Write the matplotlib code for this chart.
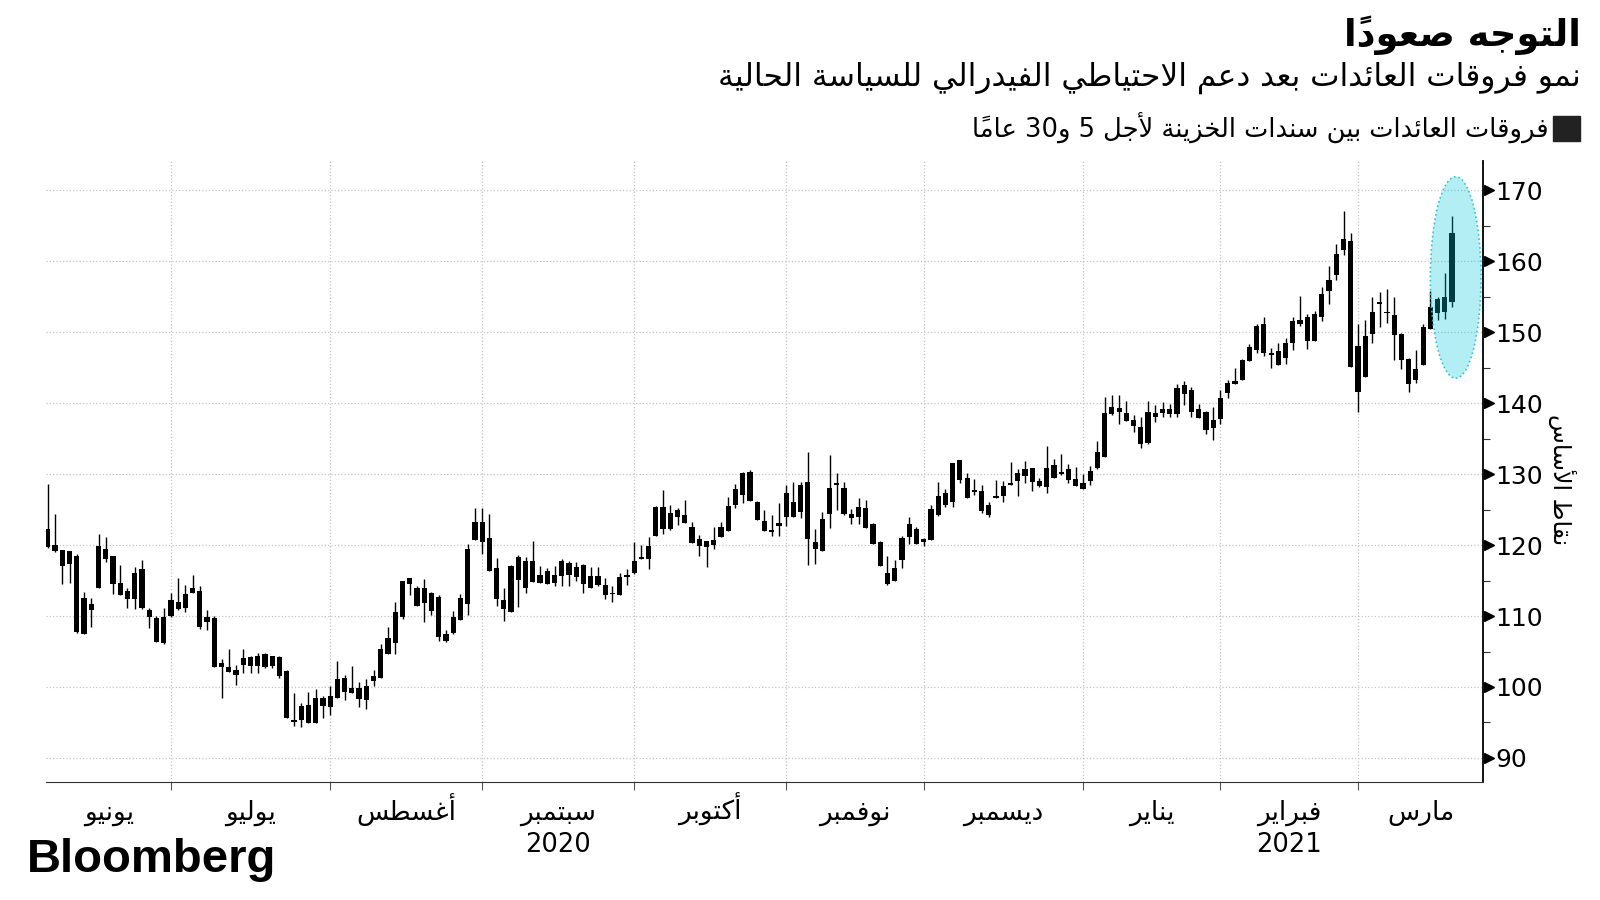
import numpy as np
import matplotlib
matplotlib.use("Agg")
import matplotlib.pyplot as plt
from matplotlib.patches import Ellipse, Rectangle
from matplotlib.ticker import FixedLocator

plt.rcParams['font.family'] = ['DejaVu Sans']

# ---- Arabic shaping (matplotlib does no contextual shaping / RTL) ----
_letters = "ءآأؤإئابةتثجحخدذرزسشصضطظعغفقكلمنهوىي"
_nforms = [1, 2, 2, 2, 2, 4, 2, 4, 2, 4, 4, 4, 4, 4, 2, 2, 2, 2, 4, 4, 4, 4,
           4, 4, 4, 4, 4, 4, 4, 4, 4, 4, 4, 2, 2, 4]
FORMS = {}
_code = 0xFE80
for ch, n in zip(_letters, _nforms):
    if n == 1:
        FORMS[ch] = (chr(_code), chr(_code))
    else:
        FORMS[ch] = tuple(chr(_code + k) for k in range(n))
    _code += n
LAM_ALEF = {'آ': 0xFEF5, 'أ': 0xFEF7, 'إ': 0xFEF9, 'ا': 0xFEFB}
MARKS = set(chr(c) for c in range(0x64B, 0x653))


def ar(text):
    clusters = []
    prev = None
    i = 0
    while i < len(text):
        c = text[i]
        if c in MARKS:
            if clusters:
                clusters[-1][0] += c
            i += 1
            continue
        if c not in FORMS:
            clusters.append([c, not ('\u0600' <= c <= '\u06FF') and c != ' '])
            prev = None
            i += 1
            continue
        j = i + 1
        while j < len(text) and text[j] in MARKS:
            j += 1
        nxt = text[j] if j < len(text) else None
        p = prev is not None and len(FORMS[prev]) == 4
        if c == 'ل' and nxt in LAM_ALEF:
            clusters.append([chr(LAM_ALEF[nxt] + (1 if p else 0)), False])
            prev = nxt
            i = j + 1
            continue
        f = FORMS[c]
        nj = nxt in FORMS and nxt != 'ء' and len(f) == 4
        if p and nj:
            g = f[3]
        elif p:
            g = f[1]
        elif nj:
            g = f[2]
        else:
            g = f[0]
        clusters.append([g, False])
        prev = c
        i += 1
    # reverse for display, keeping left-to-right runs (digits) in order
    runs = []
    for s, ltr in clusters:
        if ltr and runs and runs[-1][1]:
            runs[-1][0] += s
        else:
            runs.append([s, ltr])
    return ''.join(r[0] for r in reversed(runs))


# ---- data: 5s/30s Treasury spread, daily candles (bp) ----
high = [128.6, 124.4, 119.3, 119.2, 118.7, 113.4, 112.6, 121.5, 121.2, 118.4,
        117.2, 114.0, 116.9, 117.9, 111.2, 110.0, 111.1, 113.3, 115.3, 114.4,
        115.8, 114.2, 110.8, 110.0, 104.0, 105.4, 103.1, 105.3, 104.4, 104.8,
        104.8, 104.4, 104.4, 102.4, 99.1, 97.7, 99.3, 99.7, 98.8, 100.1,
        103.7, 101.7, 103.0, 100.7, 101.1, 102.4, 106.1, 108.5, 112.0, 115.0,
        115.4, 114.2, 115.2, 113.4, 113.0, 108.0, 110.7, 113.1, 120.2, 125.2,
        125.2, 124.4, 118.2, 114.0, 117.2, 118.6, 118.3, 120.6, 117.1, 116.7,
        117.1, 118.0, 117.7, 117.6, 117.4, 116.9, 116.9, 115.3, 114.3, 116.0,
        116.6, 120.5, 120.0, 121.2, 125.5, 127.7, 125.7, 125.2, 126.4, 123.2,
        121.4, 120.6, 122.6, 123.3, 126.8, 128.6, 130.3, 130.6, 126.2, 125.0,
        124.3, 125.9, 128.5, 128.9, 128.9, 133.1, 122.3, 124.7, 132.7, 130.2,
        128.9, 125.1, 126.7, 126.3, 123.1, 120.6, 118.4, 117.9, 121.3, 123.9,
        122.6, 121.0, 125.7, 128.9, 127.9, 131.6, 132.0, 130.2, 129.3, 128.5,
        126.0, 129.2, 129.0, 131.7, 130.7, 131.8, 130.9, 129.5, 133.9, 132.1,
        132.9, 131.4, 131.0, 130.0, 131.2, 134.7, 140.8, 141.2, 141.2, 140.3,
        138.3, 138.0, 140.3, 139.8, 140.1, 139.9, 142.7, 143.1, 142.3, 139.9,
        138.9, 139.5, 141.9, 143.2, 144.9, 146.2, 148.3, 151.1, 152.1, 147.8,
        148.4, 149.2, 152.1, 155.1, 152.5, 153.0, 156.4, 159.3, 162.4, 167.0,
        164.0, 151.1, 151.7, 154.9, 155.7, 156.1, 154.9, 149.9, 146.3, 147.5,
        151.1, 155.8, 154.9, 158.3, 166.3]
body_hi = [122.3, 120.0, 119.3, 119.1, 118.4, 112.5, 111.7, 119.9, 119.5, 118.4,
           114.7, 113.5, 116.0, 116.6, 110.8, 109.7, 109.8, 112.2, 112.0, 113.1,
           114.0, 113.5, 109.8, 109.7, 103.4, 102.8, 102.4, 104.1, 104.2, 104.4,
           104.7, 104.3, 104.2, 102.2, 95.4, 97.3, 97.4, 98.4, 98.5, 98.7,
           101.1, 101.2, 99.8, 99.9, 100.2, 101.6, 105.3, 106.9, 110.5, 114.9,
           115.3, 114.0, 114.0, 113.3, 112.7, 107.5, 109.8, 112.5, 119.5, 123.2,
           123.3, 121.0, 116.8, 112.2, 117.1, 118.3, 117.7, 117.8, 115.8, 116.3,
           115.8, 117.7, 117.5, 116.9, 117.2, 115.6, 115.7, 114.4, 113.3, 115.5,
           115.8, 117.8, 118.3, 119.9, 125.4, 125.4, 124.5, 124.9, 124.2, 122.6,
           120.9, 120.6, 120.7, 122.5, 125.5, 127.9, 130.1, 130.3, 126.0, 123.4,
           122.1, 123.1, 127.4, 126.0, 128.5, 128.9, 120.4, 123.7, 128.0, 128.7,
           128.0, 124.4, 125.4, 125.2, 122.9, 120.5, 116.0, 116.8, 121.0, 122.9,
           122.2, 120.9, 125.1, 126.9, 127.3, 131.5, 132.0, 129.4, 127.8, 127.6,
           125.7, 126.9, 128.3, 128.7, 130.1, 130.7, 130.8, 129.0, 130.8, 131.3,
           130.3, 130.7, 129.3, 128.7, 130.5, 133.1, 138.6, 139.4, 139.3, 138.6,
           137.6, 136.6, 138.7, 138.6, 139.2, 139.2, 142.1, 142.5, 141.9, 139.2,
           138.7, 137.6, 140.7, 142.9, 143.1, 146.1, 147.9, 150.8, 151.2, 147.1,
           147.4, 148.4, 151.5, 151.7, 152.1, 152.6, 155.4, 157.3, 161.0, 163.1,
           162.9, 148.0, 149.4, 152.9, 154.3, 152.9, 152.4, 149.7, 146.2, 144.8,
           150.7, 153.6, 154.7, 154.9, 163.9]
body_lo = [119.7, 119.1, 117.1, 117.3, 107.7, 107.5, 110.9, 114.0, 118.1, 114.5,
           112.9, 112.4, 112.4, 111.1, 109.9, 106.4, 106.2, 110.0, 111.0, 111.2,
           113.3, 108.4, 109.1, 102.8, 102.8, 102.1, 101.7, 103.1, 102.9, 103.0,
           102.8, 103.0, 101.6, 95.7, 95.1, 95.4, 94.9, 94.9, 97.3, 97.2,
           98.5, 99.3, 99.2, 98.3, 98.1, 100.8, 101.2, 104.6, 106.2, 109.8,
           114.5, 111.4, 111.8, 110.7, 107.0, 106.5, 107.6, 109.4, 111.7, 120.7,
           120.5, 116.4, 112.4, 111.0, 110.5, 115.1, 113.9, 114.8, 114.7, 114.5,
           114.6, 115.6, 115.8, 115.5, 114.5, 114.0, 114.4, 112.9, 113.2, 113.0,
           115.6, 116.0, 118.1, 118.0, 121.3, 122.2, 122.3, 124.0, 123.1, 120.3,
           119.9, 119.7, 120.0, 121.2, 122.0, 125.7, 127.0, 126.2, 123.6, 122.0,
           122.0, 122.7, 124.0, 123.9, 124.7, 120.9, 119.5, 119.2, 124.4, 128.5,
           124.4, 123.8, 124.0, 122.4, 120.1, 117.1, 114.5, 115.0, 117.9, 121.1,
           120.2, 120.5, 120.7, 124.2, 125.6, 126.0, 129.1, 126.7, 127.5, 124.8,
           124.3, 126.7, 126.9, 128.5, 129.0, 129.7, 128.9, 128.3, 128.2, 129.4,
           130.0, 129.2, 128.3, 127.9, 129.0, 130.9, 132.4, 138.4, 138.7, 137.5,
           136.8, 134.2, 134.4, 138.0, 138.6, 138.5, 138.5, 141.3, 138.7, 137.9,
           136.2, 136.5, 137.7, 141.4, 142.7, 143.3, 145.9, 147.5, 147.0, 146.8,
           145.4, 146.4, 148.4, 151.2, 148.7, 148.7, 152.1, 155.8, 158.0, 161.6,
           145.1, 141.6, 143.7, 149.7, 153.9, 152.8, 149.6, 146.1, 142.7, 143.3,
           145.4, 150.4, 152.7, 152.9, 154.3]
low = [119.6, 119.0, 114.5, 114.7, 107.6, 107.4, 108.5, 113.9, 117.6, 113.1,
       112.9, 111.1, 111.0, 111.0, 108.3, 106.4, 106.1, 109.8, 110.8, 110.6,
       113.2, 108.2, 108.1, 102.8, 98.5, 102.1, 100.3, 102.0, 102.0, 102.0,
       102.7, 102.7, 101.2, 95.7, 94.5, 94.3, 94.9, 94.9, 95.7, 96.0,
       98.5, 98.2, 99.2, 97.2, 96.9, 100.2, 101.2, 104.6, 104.7, 109.6,
       112.9, 111.4, 109.2, 110.2, 106.5, 106.3, 107.4, 109.4, 110.2, 120.7,
       118.8, 116.4, 111.4, 109.3, 110.5, 111.3, 113.3, 114.8, 114.7, 114.5,
       114.3, 114.3, 114.3, 114.9, 113.2, 114.0, 114.3, 112.4, 112.0, 113.0,
       114.4, 115.9, 118.1, 116.6, 121.3, 121.5, 122.1, 122.8, 123.1, 120.3,
       118.5, 116.9, 119.4, 121.2, 122.0, 125.2, 125.9, 126.2, 123.6, 122.0,
       121.3, 121.3, 122.7, 123.9, 123.8, 117.2, 117.3, 119.1, 122.4, 125.0,
       124.3, 122.9, 123.0, 122.4, 120.1, 117.1, 114.4, 114.9, 116.7, 120.1,
       120.2, 119.8, 120.7, 124.1, 125.3, 125.3, 128.8, 126.6, 127.0, 124.5,
       124.0, 126.6, 126.0, 128.5, 126.9, 128.8, 127.6, 128.2, 127.4, 129.4,
       129.9, 128.8, 128.3, 127.9, 128.5, 130.7, 132.4, 138.3, 137.0, 137.5,
       136.0, 133.7, 134.3, 137.3, 138.1, 138.1, 138.1, 139.7, 138.1, 137.9,
       135.7, 134.8, 137.1, 140.7, 142.7, 143.2, 145.9, 147.1, 146.7, 145.0,
       145.4, 145.5, 147.5, 150.9, 147.6, 148.7, 151.6, 153.9, 157.4, 160.8,
       145.1, 138.7, 143.7, 148.4, 150.7, 151.3, 146.1, 144.8, 141.5, 142.8,
       145.4, 150.4, 151.7, 151.9, 153.5]

months = ['يونيو', 'يوليو', 'أغسطس', 'سبتمبر', 'أكتوبر', 'نوفمبر', 'ديسمبر',
          'يناير', 'فبراير', 'مارس']
days_in_month = [17, 22, 21, 21, 21, 19, 22, 19, 19, 14]
years = {'2020': 3, '2021': 8}   # year label goes under this month
yticks = [90, 100, 110, 120, 130, 140, 150, 160, 170]

title = 'التوجه صعوداً'
subtitle = 'نمو فروقات العائدات بعد دعم الاحتياطي الفيدرالي للسياسة الحالية'
legend_label = 'فروقات العائدات بين سندات الخزينة لأجل 5 و30 عاماً'
ylabel = 'نقاط الأساس'

# ---- figure ----
fig = plt.figure(figsize=(16, 9), dpi=100)
ax = fig.add_axes([0.029, 0.131, 0.898, 0.69])

x = np.arange(len(high))
hi = np.array(body_hi)
lo = np.array(body_lo)
h = np.maximum(hi - lo, 0.25)
ax.vlines(x, low, high, color='black', linewidth=1.0, zorder=3)
ax.bar(x, h, bottom=hi - h, width=0.72, color='black', zorder=3)

# highlight around the latest move
ax.add_patch(Ellipse((194.5, 157.7), 7.0, 28.4, facecolor=(0.0, 0.78, 0.85, 0.3),
                     edgecolor='#33c3d3', linestyle=':', linewidth=1.2, zorder=4))

bounds = np.concatenate([[0], np.cumsum(days_in_month)])
ax.set_xlim(-0.2, 198.3)
ax.set_ylim(86.6, 174.1)

ax.xaxis.set_major_locator(FixedLocator(bounds[1:-1]))
ax.xaxis.set_major_formatter(plt.NullFormatter())
mids = [(bounds[i] + bounds[i + 1]) / 2 for i in range(len(months))]
mids[-1] = (bounds[-2] + 198.3) / 2
ax.xaxis.set_minor_locator(FixedLocator(mids))
ax.xaxis.set_minor_formatter(plt.FixedFormatter([ar(m) for m in months]))
ax.tick_params(axis='x', which='major', length=6, width=0.8, color='#555555')
ax.tick_params(axis='x', which='minor', length=0, pad=27, labelsize=19)
for lbl in ax.get_xticklabels(minor=True):
    lbl.set_verticalalignment('baseline')

for yr, mi in years.items():
    ax.text(mids[mi], -0.113, yr, transform=ax.get_xaxis_transform(),
            ha='center', va='baseline', fontsize=18.5)

ax.yaxis.tick_right()
ax.yaxis.set_major_locator(FixedLocator(yticks))
ax.yaxis.set_minor_locator(FixedLocator([v + 5 for v in yticks[:-1]]))
ax.tick_params(axis='y', which='major', length=0, pad=9, labelsize=18)
ax.tick_params(axis='y', which='minor', length=5, width=0.8, color='#333333')
ax.plot([1.004] * len(yticks), yticks, linestyle='none', marker='>', ms=6.5,
        color='black', transform=ax.get_yaxis_transform(), clip_on=False)

ax.grid(True, which='major', linestyle=':', color='#c4c4c4', linewidth=0.9)
ax.set_axisbelow(True)
for s in ['top', 'left']:
    ax.spines[s].set_visible(False)
ax.spines['right'].set_linewidth(1.3)
ax.spines['bottom'].set_color('#333333')

fig.text(0.976, 0.467, ar(ylabel), rotation=-90, ha='center', va='center',
         fontsize=17)

# titles
fig.text(0.988, 0.961, ar(title), ha='right', va='center', fontsize=26.5,
         fontweight='bold')
fig.text(0.988, 0.914, ar(subtitle), ha='right', va='center', fontsize=22.5)
fig.patches.append(Rectangle((0.9706, 0.8433), 0.0169, 0.0278, color='#222222',
                             transform=fig.transFigure, figure=fig))
fig.text(0.968, 0.857, ar(legend_label), ha='right', va='center', fontsize=18.5)

fig.text(0.017, 0.044, 'Bloomberg', ha='left', va='center', fontsize=34,
         fontweight='bold', family='Liberation Sans')

fig.savefig('out.png', dpi=100)
